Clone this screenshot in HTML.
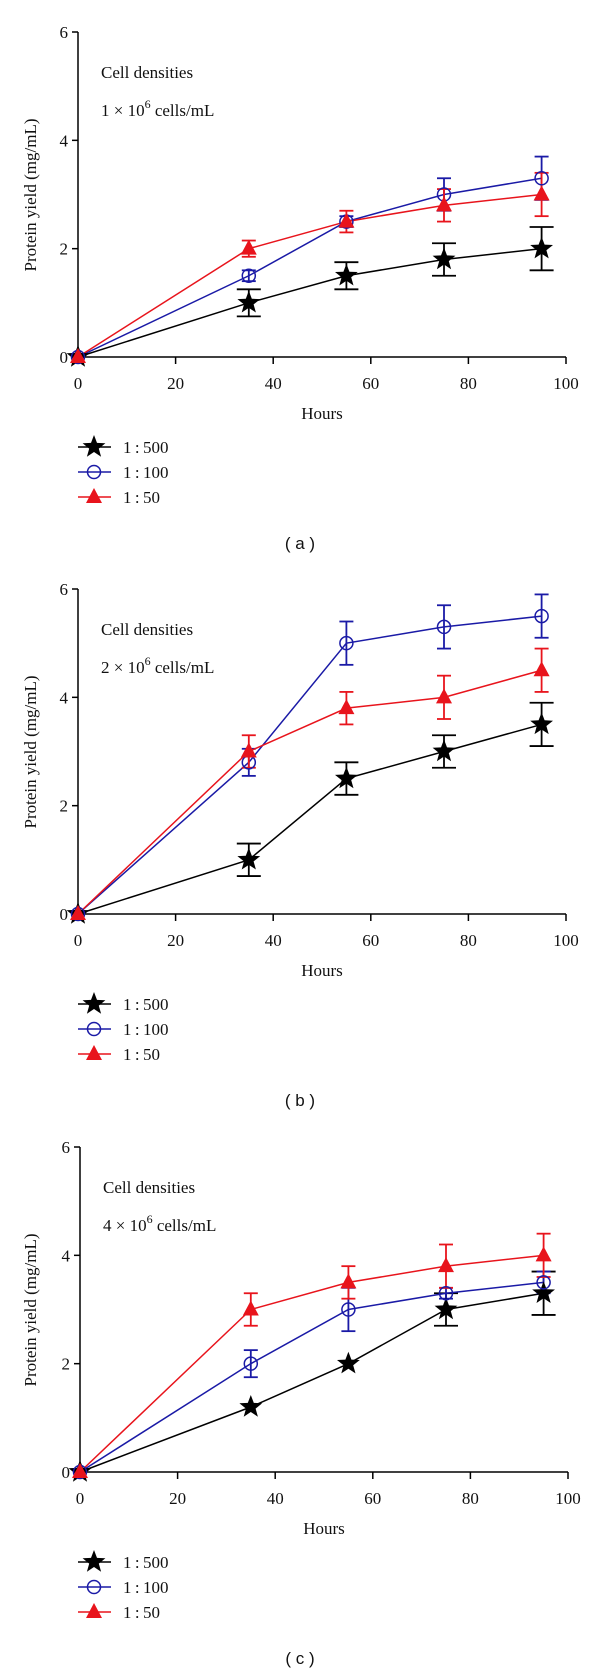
<!DOCTYPE html>
<html><head><meta charset="utf-8"><style>
html,body{margin:0;padding:0;background:#fff;}
svg{display:block;}
text{font-family:"Liberation Serif",serif;font-size:17px;fill:#111;}
.lab{font-family:"Liberation Sans",sans-serif;font-size:17px;}
</style></head><body>
<svg id="chart" width="600" height="1677" viewBox="0 0 600 1677" xmlns="http://www.w3.org/2000/svg"></svg>
<script>
const hours = [0, 35, 55, 75, 95];
const yTicks = [0, 2, 4, 6];
const xTicks = [0, 20, 40, 60, 80, 100];
const panelNames = ["a", "b", "c"];
const densityLabels = ["1", "2", "4"];
const seriesNames = ["1:500", "1:100", "1:50"];
// panel a
const a500 = [0, 1, 1.5, 1.8, 2];
const a500err = [0, 0.25, 0.25, 0.3, 0.4];
const a100 = [0, 1.5, 2.5, 3, 3.3];
const a100err = [0, 0.1, 0.1, 0.3, 0.4];
const a50 = [0, 2, 2.5, 2.8, 3];
const a50err = [0, 0.15, 0.2, 0.3, 0.4];
// panel b
const b500 = [0, 1, 2.5, 3, 3.5];
const b500err = [0, 0.3, 0.3, 0.3, 0.4];
const b100 = [0, 2.8, 5, 5.3, 5.5];
const b100err = [0, 0.25, 0.4, 0.4, 0.4];
const b50 = [0, 3, 3.8, 4, 4.5];
const b50err = [0, 0.3, 0.3, 0.4, 0.4];
// panel c
const c500 = [0, 1.2, 2, 3, 3.3];
const c500err = [0, 0, 0, 0.3, 0.4];
const c100 = [0, 2, 3, 3.3, 3.5];
const c100err = [0, 0.25, 0.4, 0.1, 0.2];
const c50 = [0, 3, 3.5, 3.8, 4];
const c50err = [0, 0.3, 0.3, 0.4, 0.4];

const panelSeries = [[a500,a100,a50],[b500,b100,b50],[c500,c100,c50]];
const panelErrs = [[a500err,a100err,a50err],[b500err,b100err,b50err],[c500err,c100err,c50err]];

const svg = document.getElementById('chart');
const NS = 'http://www.w3.org/2000/svg';
function mk(tag, attrs, parent, txt) {
  const e = document.createElementNS(NS, tag);
  for (const k in attrs) e.setAttribute(k, attrs[k]);
  if (txt !== undefined) e.textContent = txt;
  parent.appendChild(e);
  return e;
}
const colors = ['#000', '#1a1aa6', '#e8141c'];
const capW = [12, 7, 7];

function star(g, cx, cy, r, color) {
  let pts = [];
  for (let i = 0; i < 10; i++) {
    const rr = i % 2 === 0 ? r : r * 0.42;
    const ang = -Math.PI / 2 + i * Math.PI / 5;
    pts.push((cx + rr * Math.cos(ang)).toFixed(1) + ',' + (cy + rr * Math.sin(ang)).toFixed(1));
  }
  return mk('polygon', {points: pts.join(' '), fill: color}, g);
}
function marker(g, s, cx, cy) {
  let m;
  if (s === 0) m = star(g, cx, cy, 12, '#000');
  else if (s === 1) m = mk('circle', {cx: cx, cy: cy, r: 6.5, fill: 'none', stroke: colors[1], 'stroke-width': 1.5}, g);
  else m = mk('polygon', {points: `${cx},${cy-9} ${cx-8},${cy+6} ${cx+8},${cy+6}`, fill: colors[2]}, g);
  return m;
}

const origins = [{x0:78,x1:566,y0:357},{x0:78,x1:566,y0:914},{x0:80,x1:568,y0:1472}];
panelNames.forEach((pn, p) => {
  const o = origins[p];
  const X = v => o.x0 + (v / 100) * (o.x1 - o.x0);
  const Y = v => o.y0 - (v / 6) * 325;
  const g = mk('g', {}, svg);
  
  
  // axes
  const ya = mk('line', {x1: o.x0, y1: Y(6), x2: o.x0, y2: o.y0, stroke: '#000', 'stroke-width': 1.5}, g);
  
  
  const xa = mk('line', {x1: o.x0, y1: o.y0, x2: X(100), y2: o.y0, stroke: '#000', 'stroke-width': 1.5}, g);
  
  
  yTicks.forEach(t => {
    mk('line', {x1: o.x0 - 6, y1: Y(t), x2: o.x0, y2: Y(t), stroke: '#000', 'stroke-width': 1.5}, g);
    const tl = mk('text', {x: o.x0 - 10, y: Y(t) + 6, 'text-anchor': 'end'}, g, String(t));
    
    
  });
  xTicks.forEach(t => {
    mk('line', {x1: X(t), y1: o.y0, x2: X(t), y2: o.y0 + 7, stroke: '#000', 'stroke-width': 1.5}, g);
    const tl = mk('text', {x: X(t), y: o.y0 + 32, 'text-anchor': 'middle'}, g, String(t));
    
    
  });
  const xt = mk('text', {x: (o.x0 + o.x1) / 2, y: o.y0 + 62, 'text-anchor': 'middle'}, g, 'Hours');
  
  
  const yt = mk('text', {x: 0, y: 0, 'text-anchor': 'middle', transform: `translate(36,${o.y0 - 162}) rotate(-90)`}, g, 'Protein yield (mg/mL)');
  
  
  const t1 = mk('text', {x: o.x0 + 23, y: o.y0 - 279}, g, 'Cell densities');
  
  
  const t2 = mk('text', {x: o.x0 + 23, y: o.y0 - 241}, g);
  
  
  t2.innerHTML = densityLabels[p] + ' × 10<tspan dy="-8" font-size="12">6</tspan><tspan dy="8"> cells/mL</tspan>';
  // series
  [0, 1, 2].forEach(s => {
    const vals = panelSeries[p][s], errs = panelErrs[p][s];
    const sg = mk('g', {}, g);
    
    
    const ln = mk('polyline', {points: vals.map((v, i) => X(hours[i]) + ',' + Y(v)).join(' '), fill: 'none', stroke: colors[s], 'stroke-width': 1.5}, sg);
    
    
    vals.forEach((v, i) => {
      const e = errs[i];
      if (e > 0) {
        const eg = mk('g', {stroke: colors[s], 'stroke-width': 1.8}, sg);
        
        
        mk('line', {x1: X(hours[i]), y1: Y(v - e), x2: X(hours[i]), y2: Y(v + e)}, eg);
        mk('line', {x1: X(hours[i]) - capW[s], y1: Y(v + e), x2: X(hours[i]) + capW[s], y2: Y(v + e)}, eg);
        mk('line', {x1: X(hours[i]) - capW[s], y1: Y(v - e), x2: X(hours[i]) + capW[s], y2: Y(v - e)}, eg);
      }
    });
  });
  [0, 1, 2].forEach(s => {
    const vals = panelSeries[p][s];
    vals.forEach((v, i) => {
      const m = marker(g, s, X(hours[i]), Y(v));
      
      
    });
  });
  // legend
  [0, 1, 2].forEach(s => {
    const ly = o.y0 + 90 + s * 25;
    const lg = mk('g', {}, g);
    
    
    mk('line', {x1: 78, y1: ly, x2: 111, y2: ly, stroke: colors[s], 'stroke-width': 1.5}, lg);
    marker(lg, s, 94, ly);
    mk('text', {x: 123, y: ly + 6}, lg, seriesNames[s].replace(':', '\u2009:\u2009'));
  });
  const pl = mk('text', {x: 300, y: o.y0 + 192, 'text-anchor': 'middle', class: 'lab'}, g, '( ' + pn + ' )');
  
  
});
</script>
</body></html>
